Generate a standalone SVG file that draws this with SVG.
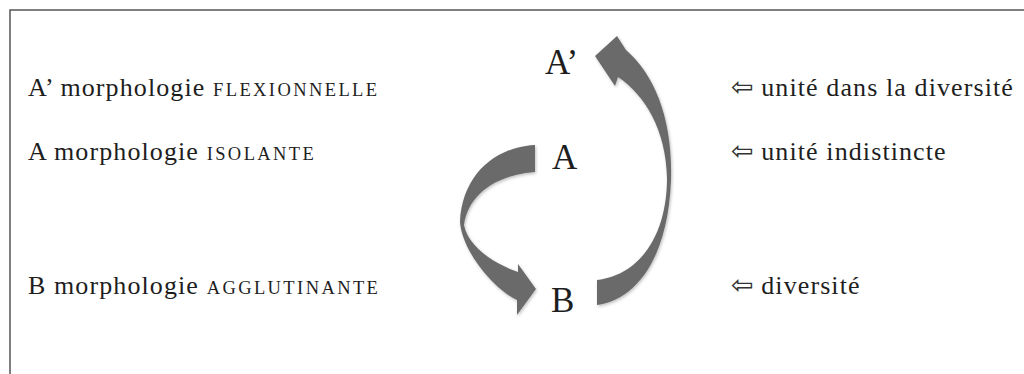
<svg xmlns="http://www.w3.org/2000/svg" width="1024" height="374" viewBox="0 0 1024 374">
<defs>
<style>
.lbl{font-family:"Liberation Serif","Times New Roman",serif;font-size:26px;fill:#1e1e1e;letter-spacing:1.1px}
.sc{font-size:18.5px;letter-spacing:2.4px}
.sym{font-family:"DejaVu Sans",sans-serif;font-size:27px;letter-spacing:0;fill:#333}
.big{font-family:"Liberation Serif","Times New Roman",serif;font-size:35px;fill:#1e1e1e}
.arrow{fill:#6b6b6b;filter:url(#sh)}
.frame{stroke:#555;stroke-width:1.5;fill:none}
</style>
<filter id="sh" x="-20%" y="-20%" width="140%" height="140%">
<feDropShadow dx="1" dy="1.5" stdDeviation="1.5" flood-color="#000" flood-opacity="0.25"/>
</filter>
</defs>
<rect width="1024" height="374" fill="#fff"/>
<path class="frame" d="M10 374 V10 H1024"/>
<g id="labels-left">
<text class="lbl" x="28" y="96">A’ morphologie <tspan class="sc">FLEXIONNELLE</tspan></text>
<text class="lbl" x="28" y="160">A morphologie <tspan class="sc">ISOLANTE</tspan></text>
<text class="lbl" x="28" y="294">B morphologie <tspan class="sc">AGGLUTINANTE</tspan></text>
</g>
<g id="labels-right">
<text class="lbl" x="731" y="96"><tspan class="sym">⇦</tspan> unité dans la diversité</text>
<text class="lbl" x="731" y="160"><tspan class="sym">⇦</tspan> unité indistincte</text>
<text class="lbl" x="731" y="294"><tspan class="sym">⇦</tspan> diversité</text>
</g>
<g id="node-Aprime"><text class="big" x="545" y="74">A’</text></g>
<g id="node-A"><text class="big" x="552" y="169">A</text></g>
<g id="node-B"><text class="big" x="551" y="312">B</text></g>
<g id="connectors">
<path id="arrow-A-B" class="arrow" d="M535 145 C495 147 462 175 460 222 C462 250 492 288 517 300 L517 315 L536 289 L518 264 L518 272 C490 262 468 245 464 225 C468 195 495 175 535 172 Z"/>
<path id="arrow-B-Aprime" class="arrow" d="M597 305 C635 300 668 260 671 180 C673 120 655 75 626 50 L617 36 L595 56 L615 86 L618 77 C645 95 666 130 667 178 C667 235 640 275 597 280 Z"/>
</g>
</svg>
